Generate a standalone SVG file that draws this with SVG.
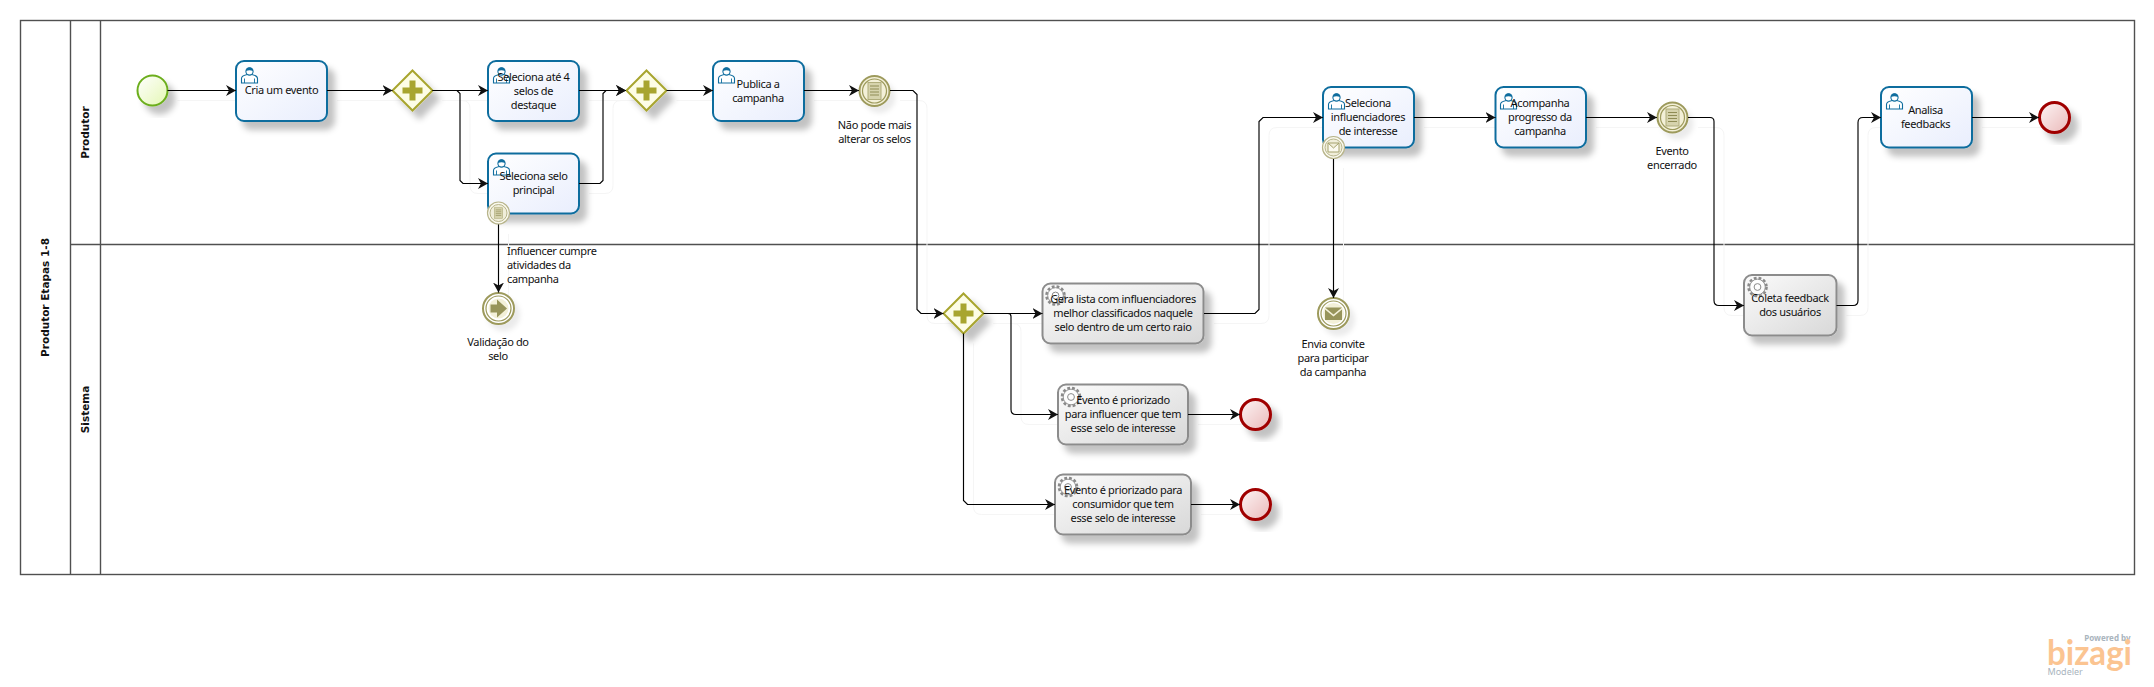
<svg xmlns="http://www.w3.org/2000/svg" width="2154" height="687" viewBox="0 0 2154 687">
<style>
text{font-family:"Noto Sans","DejaVu Sans",sans-serif;font-size:11px;letter-spacing:-.35px;fill:#111;text-anchor:middle}
.lbl{text-anchor:start}
.hdr{font-family:"DejaVu Sans",sans-serif;font-weight:bold;font-size:10.5px;letter-spacing:0}
.pool{fill:none;stroke:#505050;stroke-width:1.4}
.conn path{fill:none;stroke:#000;stroke-width:1.15;marker-end:url(#arrow)}
.connshadow path{fill:none;stroke:#f5f5f5;stroke-width:1}
.user{fill:url(#gUser);stroke:#0f6d9e;stroke-width:2}
.svc{fill:url(#gSvc);stroke:#8c8c8c;stroke-width:2}
.start{fill:url(#gStart);stroke:#6cae1e;stroke-width:2}
.end{fill:url(#gEnd);stroke:#a00000;stroke-width:3}
.gw{fill:#fdfde6;stroke:#a8a52f;stroke-width:2}
.plus{fill:#a8a52f}
.ev1{fill:#f3f0d8;stroke:#9d9a5c;stroke-width:2}
.ev2{fill:none;stroke:#9d9a5c;stroke-width:1.2}
.bd1{fill:#fbfaf0;stroke:#b7b48a;stroke-width:1.2}
.bd2{fill:#f0eeda;stroke:#b7b48a;stroke-width:1}
</style>
<defs>
<linearGradient id="gUser" x1="0" y1="0" x2="1" y2="1"><stop offset="0" stop-color="#ffffff"/><stop offset="1" stop-color="#e9eefd"/></linearGradient>
<linearGradient id="gSvc" x1="0" y1="0" x2="1" y2="1"><stop offset="0" stop-color="#fbfbfb"/><stop offset="1" stop-color="#d8d8d8"/></linearGradient>
<linearGradient id="gStart" x1="0" y1="0" x2="1" y2="1"><stop offset="0" stop-color="#ffffff"/><stop offset="1" stop-color="#e4f7b4"/></linearGradient>
<linearGradient id="gEnd" x1="0" y1="0" x2="1" y2="1"><stop offset="0" stop-color="#fdf5f5"/><stop offset="1" stop-color="#eab9b9"/></linearGradient>
<filter id="sh" x="-30%" y="-30%" width="170%" height="170%"><feDropShadow dx="7" dy="8" stdDeviation="3.4" flood-color="#000" flood-opacity=".24"/></filter>
<filter id="shs" x="-30%" y="-30%" width="170%" height="170%"><feDropShadow dx="5" dy="6" stdDeviation="2.5" flood-color="#000" flood-opacity=".08"/></filter>
<marker id="arrow" markerUnits="userSpaceOnUse" markerWidth="11" markerHeight="13" refX="10" refY="6" orient="auto"><path d="M0,0.5 L10,6 L0,11.5 L3,6 z" fill="#111"/></marker>
<g id="userIcon">
<path d="M0.5,16 V11.5 Q0.5,9 4.5,8 L6,7.5 H11 L12.5,8 Q16.5,9 16.5,11.5 V16 Z" fill="#fff" stroke="#0f6d9e" stroke-width="1.1"/>
<path d="M3.5,16 V11.5 M13.5,16 V11.5" fill="none" stroke="#0f6d9e" stroke-width=".9"/>
<circle cx="8.5" cy="4.5" r="3.6" fill="#fff" stroke="#0f6d9e" stroke-width="1.1"/>
<path d="M5,4 Q5,0.6 8.5,0.6 Q12,0.6 12,4 Q8.5,2.4 5,4 Z" fill="#0f6d9e"/>
</g>
<g id="gearIcon">
<circle r="9" fill="none" stroke="#8a8a8a" stroke-width="2.6" stroke-dasharray="2.8 2"/>
<circle r="7.8" fill="#fff" fill-opacity=".75" stroke="#8a8a8a" stroke-width=".9"/>
<circle r="3.4" fill="none" stroke="#8a8a8a" stroke-width="1"/>
</g>
<g id="docIcon">
<rect x="-6.5" y="-8.5" width="13" height="17" fill="#d6d3ad" stroke="#b0ad7c" stroke-width="1"/>
<path d="M-4.5,-5 H4.5 M-4.5,-2 H4.5 M-4.5,1 H4.5 M-4.5,4 H4.5" stroke="#8f8c55" stroke-width="1" fill="none"/>
</g>
<path id="plusIcon" class="plus" d="M-3,-10 H3 V-3 H10 V3 H3 V10 H-3 V3 H-10 V-3 H-3 Z"/>
</defs>

<g id="pool">
<rect class="pool" x="20.5" y="20.5" width="2114" height="554"/>
<path class="pool" d="M70.5,20.5 V574.5 M100.5,20.5 V574.5 M70.5,244.5 H2134.5"/>
<text class="hdr" transform="translate(49,297.5) rotate(-90)">Produtor Etapas 1-8</text>
<text class="hdr" transform="translate(89,132.5) rotate(-90)">Produtor</text>
<text class="hdr" transform="translate(89,409.5) rotate(-90)">Sistema</text>
</g>

<g class="connshadow" id="connector-shadows" transform="translate(10,10)">
<path d="M167.5,90.5 H236"/><path d="M327,90.5 H392.5"/><path d="M432.5,90.5 H488"/>
<path d="M432.5,90.5 H452 Q460,90.5 460,98.5 V175.5 Q460,183.5 468,183.5 H488"/>
<path d="M579,90.5 H626"/><path d="M579,183.5 H595 Q603,183.5 603,175.5 V98.5 Q603,90.5 611,90.5 H626"/>
<path d="M666.5,90.5 H713"/><path d="M804,90.5 H859"/>
<path d="M890,90.5 H909 Q917,90.5 917,98.5 V305.5 Q917,313.5 925,313.5 H943.5"/>
<path d="M983.5,313.5 H1042.5"/>
<path d="M983.5,313.5 H1003 Q1011,313.5 1011,321.5 V406.5 Q1011,414.5 1019,414.5 H1058"/>
<path d="M963.5,333.5 V496.5 Q963.5,504.5 971.5,504.5 H1055"/>
<path d="M1204,313.5 H1251 Q1259,313.5 1259,305.5 V125.5 Q1259,117.5 1267,117.5 H1323"/>
<path d="M1333.5,158 V298"/><path d="M498.5,224 V292"/>
<path d="M1414,117.5 H1495.5"/><path d="M1586,117.5 H1657"/>
<path d="M1688,117.5 H1706 Q1714,117.5 1714,125.5 V297.5 Q1714,305.5 1722,305.5 H1744"/>
<path d="M1836.5,305.5 H1850 Q1858,305.5 1858,297.5 V125.5 Q1858,117.5 1866,117.5 H1881"/>
<path d="M1972,117.5 H2039"/><path d="M1188,414.5 H1240"/><path d="M1191,504.5 H1240"/>
</g>

<g id="n-start"><circle class="start" cx="152.5" cy="90.5" r="15" filter="url(#sh)"/></g>
<g id="n-cria"><rect class="user" x="236" y="61" width="91" height="60" rx="8" filter="url(#sh)"/><use href="#userIcon" x="241" y="67"/><text x="281.5" y="94">Cria um evento</text></g>
<g id="n-gw1"><path class="gw" d="M412.5,70.5 L432.5,90.5 L412.5,110.5 L392.5,90.5 Z" filter="url(#sh)"/><use href="#plusIcon" x="412.5" y="90.5"/></g>
<g id="n-sel1"><rect class="user" x="488" y="61" width="91" height="60" rx="8" filter="url(#sh)"/><use href="#userIcon" x="493" y="67"/><text x="533.5" y="81">Seleciona até 4</text><text x="533.5" y="95">selos de</text><text x="533.5" y="109">destaque</text></g>
<g id="n-sel2"><rect class="user" x="488" y="153.5" width="91" height="60" rx="8" filter="url(#sh)"/><use href="#userIcon" x="493" y="159"/><text x="533.5" y="180">Seleciona selo</text><text x="533.5" y="194">principal</text></g>
<g id="n-gw2"><path class="gw" d="M646.5,70.5 L666.5,90.5 L646.5,110.5 L626.5,90.5 Z" filter="url(#sh)"/><use href="#plusIcon" x="646.5" y="90.5"/></g>
<g id="n-publica"><rect class="user" x="713" y="61" width="91" height="60" rx="8" filter="url(#sh)"/><use href="#userIcon" x="718" y="67"/><text x="758" y="88">Publica a</text><text x="758" y="102">campanha</text></g>
<g id="n-ev1"><circle class="ev1" cx="874.5" cy="91" r="15" filter="url(#shs)"/><circle class="ev2" cx="874.5" cy="91" r="12"/><use href="#docIcon" x="874.5" y="91"/><text x="874.5" y="129">Não pode mais</text><text x="874.5" y="143">alterar os selos</text></g>
<g id="n-gw3"><path class="gw" d="M963.5,293.5 L983.5,313.5 L963.5,333.5 L943.5,313.5 Z" filter="url(#sh)"/><use href="#plusIcon" x="963.5" y="313.5"/></g>
<g id="n-gera"><rect class="svc" x="1042.5" y="283.5" width="161" height="60" rx="8" filter="url(#sh)"/><use href="#gearIcon" x="1055.5" y="295.5"/><text x="1123" y="303">Gera lista com influenciadores</text><text x="1123" y="317">melhor classificados naquele</text><text x="1123" y="331">selo dentro de um certo raio</text></g>
<g id="n-ev-p1"><rect class="svc" x="1058" y="384.5" width="130" height="60" rx="8" filter="url(#sh)"/><use href="#gearIcon" x="1071" y="397"/><text x="1123" y="404">Evento é priorizado</text><text x="1123" y="418">para influencer que tem</text><text x="1123" y="432">esse selo de interesse</text></g>
<g id="n-end1"><circle class="end" cx="1255.5" cy="414.5" r="15" filter="url(#sh)"/></g>
<g id="n-ev-p2"><rect class="svc" x="1055" y="474.5" width="136" height="60" rx="8" filter="url(#sh)"/><use href="#gearIcon" x="1068" y="487"/><text x="1123" y="494">Evento é priorizado para</text><text x="1123" y="508">consumidor que tem</text><text x="1123" y="522">esse selo de interesse</text></g>
<g id="n-end2"><circle class="end" cx="1255.5" cy="504.5" r="15" filter="url(#sh)"/></g>
<g id="n-selinf"><rect class="user" x="1323" y="87" width="91" height="60.5" rx="8" filter="url(#sh)"/><use href="#userIcon" x="1328" y="93"/><text x="1368" y="107">Seleciona</text><text x="1368" y="121">influenciadores</text><text x="1368" y="135">de interesse</text></g>
<g id="n-acomp"><rect class="user" x="1495.5" y="87" width="90.5" height="60.5" rx="8" filter="url(#sh)"/><use href="#userIcon" x="1500" y="93"/><text x="1540" y="107">Acompanha</text><text x="1540" y="121">progresso da</text><text x="1540" y="135">campanha</text></g>
<g id="n-ev2"><circle class="ev1" cx="1672.5" cy="117.5" r="15" filter="url(#shs)"/><circle class="ev2" cx="1672.5" cy="117.5" r="12"/><use href="#docIcon" x="1672.5" y="117.5"/><text x="1672" y="155">Evento</text><text x="1672" y="169">encerrado</text></g>
<g id="n-coleta"><rect class="svc" x="1744" y="275" width="92.5" height="60.5" rx="8" filter="url(#sh)"/><use href="#gearIcon" x="1757.5" y="287"/><text x="1790" y="302">Coleta feedback</text><text x="1790" y="316">dos usuários</text></g>
<g id="n-analisa"><rect class="user" x="1881" y="87" width="91" height="60.5" rx="8" filter="url(#sh)"/><use href="#userIcon" x="1886" y="93"/><text x="1925.5" y="114">Analisa</text><text x="1925.5" y="128">feedbacks</text></g>
<g id="n-end3"><circle class="end" cx="2054.5" cy="117.5" r="15" filter="url(#sh)"/></g>
<g id="n-valid"><circle class="ev1" cx="498.5" cy="308.5" r="15.5" style="fill:#fff" filter="url(#shs)"/><circle class="ev2" cx="498.5" cy="308.5" r="12.5"/><circle cx="498.5" cy="308.5" r="10" fill="#f3f0d8"/><path d="M490.5,304.5 H497 V299.5 L507,308.5 L497,317.5 V312.5 H490.5 Z" fill="#97945a"/><text x="498" y="346">Validação do</text><text x="498" y="360">selo</text></g>
<g id="n-msg"><circle class="ev1" cx="1333.5" cy="313.5" r="15.5" style="fill:#fff" filter="url(#shs)"/><circle class="ev2" cx="1333.5" cy="313.5" r="12.5"/><circle cx="1333.5" cy="313.5" r="10.5" fill="#f3f0d8"/><path d="M1325,307.5 H1342 L1333.5,314.5 Z M1325,309.5 L1333.5,316.5 L1342,309.5 V320 H1325 Z" fill="#97945a"/><text x="1333" y="348">Envia convite</text><text x="1333" y="362">para participar</text><text x="1333" y="376">da campanha</text></g>

<g class="conn" id="connectors">
<path d="M167.5,90.5 H236"/><path d="M327,90.5 H392.5"/><path d="M432.5,90.5 H488"/>
<path d="M432.5,90.5 H457 L460,93.5 V180.5 L463,183.5 H488"/>
<path d="M579,90.5 H626"/><path d="M579,183.5 H600 L603,180.5 V93.5 L606,90.5 H626"/>
<path d="M666.5,90.5 H713"/><path d="M804,90.5 H859"/>
<path d="M890,90.5 H913 L917,94.5 V309.5 L921,313.5 H943.5"/>
<path d="M983.5,313.5 H1042.5"/>
<path d="M1004,313.5 H1008 Q1011,313.5 1011,316.5 V409.5 Q1011,414.5 1016,414.5 H1058"/>
<path d="M963.5,333.5 V500.5 L967.5,504.5 H1055"/>
<path d="M1204,313.5 H1255 L1259,309.5 V121.5 L1263,117.5 H1323"/>
<path d="M1333.5,158 V298"/>
<path d="M498.5,224 V292.5"/>
<path d="M1414,117.5 H1495.5"/><path d="M1586,117.5 H1657"/>
<path d="M1688,117.5 H1710 Q1714,117.5 1714,121.5 V300.5 Q1714,305.5 1719,305.5 H1744"/>
<path d="M1836.5,305.5 H1853 Q1858,305.5 1858,300.5 V122.5 Q1858,117.5 1863,117.5 H1881"/>
<path d="M1972,117.5 H2039"/><path d="M1188,414.5 H1240"/><path d="M1191,504.5 H1240"/>
</g>

<g id="n-bd1"><circle class="bd1" cx="498.5" cy="213" r="11"/><circle class="bd2" cx="498.5" cy="213" r="8.5"/><use href="#docIcon" transform="translate(498.5,213) scale(.62)"/><text class="lbl" x="507" y="255">Influencer cumpre</text><text class="lbl" x="507" y="269">atividades da</text><text class="lbl" x="507" y="283">campanha</text></g>
<g id="n-bd2"><circle class="bd1" cx="1333.5" cy="147.5" r="11"/><circle class="bd2" cx="1333.5" cy="147.5" r="8.5"/><path d="M1328,143 H1339 V152 H1328 Z M1328,143 L1333.5,148 L1339,143" fill="#fbfaf0" stroke="#a5a26c" stroke-width="1"/></g>

<g id="logo">
<text x="2130.5" y="641" style="font-family:'Noto Sans',sans-serif;font-size:8px;font-weight:bold;letter-spacing:0;fill:#a9b4bd;text-anchor:end">Powered by</text>
<text x="2047" y="665" textLength="85" lengthAdjust="spacingAndGlyphs" style="font-family:'Lato',sans-serif;font-size:35px;font-weight:bold;letter-spacing:0;fill:#fbc491;text-anchor:start">bizagi</text>
<text x="2047.5" y="675" style="font-family:'Noto Sans',sans-serif;font-size:9px;letter-spacing:0;fill:#a9b4bd;text-anchor:start">Modeler</text>
</g>
</svg>
